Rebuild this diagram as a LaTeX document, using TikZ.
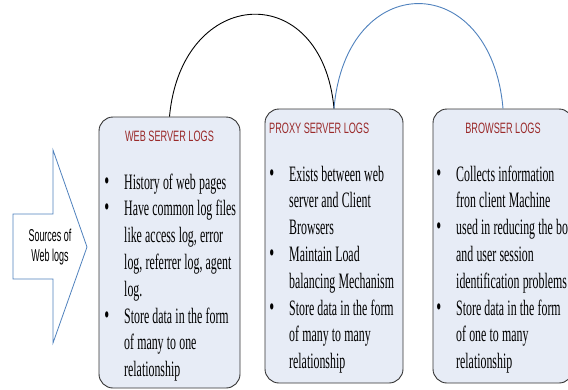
\documentclass[tikz,border=0pt]{standalone}
\usepackage{fontspec}
\usepackage{tikz}

% narrow faces for the box texts
\newfontfamily\itemfont[FakeStretch=0.54]{Liberation Serif}
\newfontfamily\headfont[FakeStretch=0.61]{Liberation Sans}
\newfontfamily\srcfont[FakeStretch=0.52]{Liberation Sans}
\newcommand{\bul}{\leavevmode\llap{{\fontsize{26}{26}\selectfont\textbullet}\hspace{15pt}}}

\begin{document}
\begin{tikzpicture}[x=1pt, y=-1pt,
    logbox/.style={draw=black!80, fill=boxfill, line width=0.9pt,
                   rounded corners=14pt, inner sep=0pt},
    loghead/.style={text=headred, inner sep=0pt,
                    font=\headfont\fontsize{15}{18}\selectfont},
    loglist/.style={anchor=base west, inner sep=0pt, text width=200pt,
                    font=\itemfont\fontsize{22}{26.8}\selectfont,
                    execute at begin node={\spaceskip=3.2pt\xspaceskip=3.2pt\relax}},
    link/.style={line width=0.9pt}]
    \definecolor{boxfill}{HTML}{E7ECF6}
    \definecolor{headred}{HTML}{9A2A2A}
    \definecolor{arcblue}{HTML}{4F81BD}

    \useasboundingbox (0,0) rectangle (568,389);
    \clip (0,0) rectangle (568,389);

    % block arrow on the left
    \draw[arcblue, line width=0.8pt, fill=white]
        (13,214) -- (53,214) -- (53,150) -- (87,247) -- (53,343) -- (53,279) -- (13,279) -- cycle;
    \node[anchor=base, inner sep=0pt, text width=60pt,
          font=\srcfont\fontsize{17.2}{20}\selectfont] (src) at (50,241.7)
        {\centering\spaceskip=2.6pt Sources of\\Web logs\par};

    % the three log boxes
    \node[logbox, minimum width=141pt, minimum height=271pt] (web)     at (169.5,252.5) {};
    \node[logbox, minimum width=138pt, minimum height=274pt] (proxy)   at (334,246) {};
    \node[logbox, minimum width=140pt, minimum height=274pt] (browser) at (503,246) {};

    % arcs between the box tops
    \draw[link, black]   (web.north)   .. controls +(12,-131) and +(-12,-131) .. (proxy.north);
    \draw[link, arcblue] (proxy.north) .. controls +(12,-140) and +(-12,-140) .. (browser.north);

    % headings
    \node[loghead, anchor=base]      (webhead)     at (169.5,141) {WEB SERVER LOGS};
    \node[loghead, anchor=base west] (proxyhead)   at (269,133)   {PROXY SERVER LOGS};
    \node[loghead, anchor=base]      (browserhead) at (503,133)   {BROWSER LOGS};

    % bullet lists
    \node[loglist] (weblist) at (124,189) {%
        \bul History of web pages\\
        \bul Have common log files\\
        like access log, error\\
        log, referrer log, agent\\
        log.\\
        \bul Store data in the form\\
        of many to one\\
        relationship};
    \node[loglist] (proxylist) at (289,181) {%
        \bul Exists between web\\
        server and Client\\
        Browsers\\
        \bul Maintain Load\\
        balancing Mechanism\\
        \bul Store data in the form\\
        of many to many\\
        relationship};
    \node[loglist] (browserlist) at (456,181) {%
        \bul Collects information\\
        fron client Machine\\
        \bul used in reducing the bot\\
        and user session\\
        identification problems\\
        \bul Store data in the form\\
        of one to many\\
        relationship};
\end{tikzpicture}
\end{document}
